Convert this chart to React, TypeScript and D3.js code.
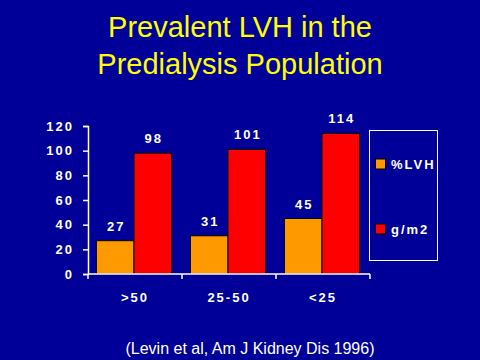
import React, { useEffect, useRef } from 'react';
import * as d3 from 'd3';

const categories = ['>50', '25-50', '<25'];
const seriesNames = ['%LVH', 'g/m2'];
const lvhValues = [27, 31, 45];
const massValues = [98, 101, 114];
const yTicks = [0, 20, 40, 60, 80, 100, 120];

const colors = ['#FF9900', '#FF0000'];
const FONT = 'Arial, "Liberation Sans", sans-serif';

const App: React.FC = () => {
  const ref = useRef<SVGSVGElement | null>(null);

  useEffect(() => {
    if (!ref.current) return;
    const svg = d3.select(ref.current);
    svg.selectAll('*').remove();

    svg.append('rect').attr('width', 480).attr('height', 360).attr('fill', '#000099');

    // title
    const title = svg.append('text')
      .attr('text-anchor', 'middle')
      .attr('fill', '#FFFF00')
      .style('font-family', FONT)
      .style('font-size', '29px');
    title.append('tspan').attr('x', 240).attr('y', 37).text('Prevalent LVH in the');
    title.append('tspan').attr('x', 240).attr('y', 74).text('Predialysis Population');

    const x = d3.scaleBand().domain(categories).range([88, 370]).paddingInner(0).paddingOuter(0);
    const inner = d3.scaleBand().domain(seriesNames).range([-1, x.bandwidth() - 1]).paddingOuter(0.25).paddingInner(0);
    const y = d3.scaleLinear().domain([0, 120]).range([274, 126]);

    const rows = categories.map((c, i) => ({ cat: c, vals: [lvhValues[i], massValues[i]] }));

    const labelStyle = (sel: d3.Selection<SVGTextElement, unknown, null, undefined>) =>
      sel.attr('fill', '#fff')
        .style('font-family', FONT)
        .style('font-weight', 'bold')
        .style('font-size', '13px')
        .style('letter-spacing', '2px');

    const g = svg.append('g');
    rows.forEach(r => {
      r.vals.forEach((v, j) => {
        const bx = (x(r.cat) || 0) + (inner(seriesNames[j]) || 0);
        g.append('rect')
          .attr('x', bx)
          .attr('y', y(v))
          .attr('width', inner.bandwidth())
          .attr('height', y(0) - y(v))
          .attr('fill', colors[j])
          .attr('stroke', '#000')
          .attr('stroke-width', 1);
        g.append('text')
          .attr('x', bx + inner.bandwidth() / 2 + 1)
          .attr('y', y(v) - 10)
          .attr('text-anchor', 'middle')
          .call(labelStyle)
          .text(String(v));
      });
    });

    // y axis
    const yAxis = svg.append('g')
      .attr('transform', 'translate(88,0)')
      .call(d3.axisLeft(y).tickValues(yTicks).tickSize(5).tickPadding(9));
    yAxis.select('.domain').attr('stroke', '#fff').attr('stroke-width', 1.5);
    yAxis.selectAll('.tick line').attr('stroke', '#fff').attr('stroke-width', 1.5);
    yAxis.selectAll<SVGTextElement, unknown>('.tick text')
      .attr('fill', '#fff')
      .style('font-family', FONT)
      .style('font-weight', 'bold')
      .style('font-size', '13px')
      .style('letter-spacing', '2px');

    // x axis
    const xAxis = svg.append('g').attr('transform', 'translate(0,274)');
    xAxis.append('line').attr('x1', 88).attr('x2', 370).attr('y1', 0).attr('y2', 0)
      .attr('stroke', '#fff').attr('stroke-width', 1.5);
    const edges = categories.map(c => x(c) || 0).concat([x.range()[1]]);
    edges.forEach(e => {
      xAxis.append('line').attr('x1', e).attr('x2', e).attr('y1', 0).attr('y2', 5)
        .attr('stroke', '#fff').attr('stroke-width', 1.5);
    });
    categories.forEach(c => {
      xAxis.append('text')
        .attr('x', (x(c) || 0) + x.bandwidth() / 2)
        .attr('y', 28)
        .attr('text-anchor', 'middle')
        .call(labelStyle)
        .text(c);
    });

    // legend
    const legend = svg.append('g');
    legend.append('rect').attr('x', 369.5).attr('y', 130.5).attr('width', 68).attr('height', 130)
      .attr('fill', 'none').attr('stroke', '#fff').attr('stroke-width', 1);
    const legendY = [164, 229];
    seriesNames.forEach((s, j) => {
      legend.append('rect').attr('x', 375.5).attr('y', legendY[j] - 5).attr('width', 10).attr('height', 10)
        .attr('fill', colors[j]).attr('stroke', '#000');
      legend.append('text')
        .attr('x', 391)
        .attr('y', legendY[j] + 5)
        .call(labelStyle)
        .text(s);
    });

    // source
    svg.append('text')
      .attr('x', 250)
      .attr('y', 354)
      .attr('text-anchor', 'middle')
      .attr('fill', '#fff')
      .style('font-family', FONT)
      .style('font-size', '16px')
      .text('(Levin et al, Am J Kidney Dis 1996)');
  }, []);

  return (
    <svg ref={ref} width={480} height={360}
      style={{ position: 'absolute', left: 0, top: 0, display: 'block' }} />
  );
};

export default App;
